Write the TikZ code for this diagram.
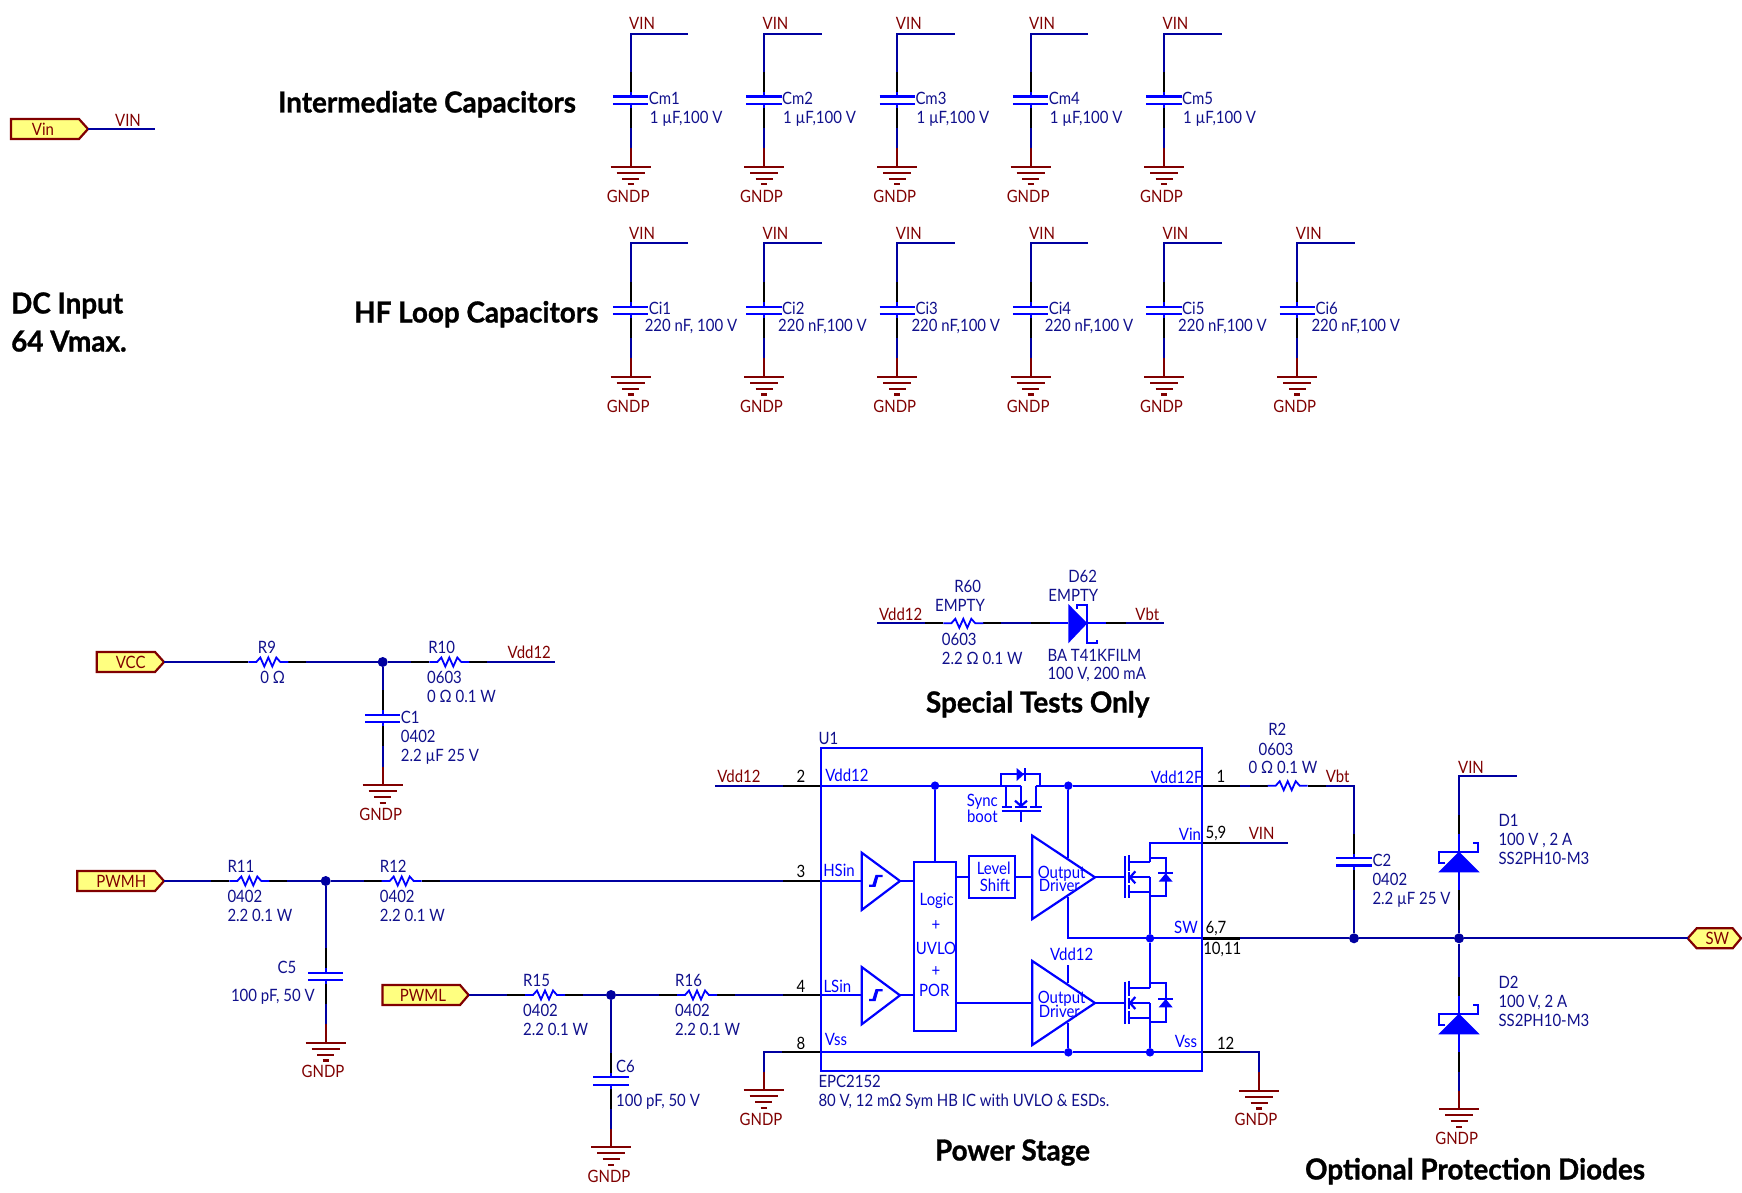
\documentclass[tikz,border=0pt]{standalone}
\usepackage{fontspec}
\setmainfont[FakeStretch=0.88]{Lato}
\newfontfamily\headfont[BoldFeatures={FakeStretch=0.96,FakeBold=1}]{Lato}
\definecolor{wirec}{HTML}{0000A0}
\definecolor{compc}{HTML}{0000FF}
\definecolor{desc}{HTML}{10108C}
\definecolor{netc}{HTML}{800000}
\definecolor{portc}{HTML}{FFFF80}
\tikzset{
  wire/.style={draw=wirec,line width=2.2pt},
  pinw/.style={draw=black,line width=2.2pt},
  comp/.style={draw=compc,line width=2.2pt},
  gndw/.style={draw=netc,line width=2.2pt},
  basetxt/.style={inner sep=0pt,text height=11.5pt,text depth=0pt,yshift=-0.3pt,font=\fontsize{17}{17}\selectfont},
  des/.style={basetxt,text=desc},
  desl/.style={des,anchor=west,xshift=-1pt},
  net/.style={basetxt,text=netc},
  icb/.style={basetxt,text=compc},
  pinn/.style={basetxt,text=black},
  head/.style={inner sep=0pt,text=black,text height=21pt,text depth=0pt,font=\headfont\fontsize{29}{29}\selectfont\bfseries},
  jdot/.style={circle,fill=wirec,inner sep=0pt,minimum size=10pt},
  bdot/.style={circle,fill=compc,inner sep=0pt,minimum size=8.5pt},
  portb/.style={draw=netc,fill=portc,line width=2.2pt,line join=miter},
}
\newcommand{\tx}[5]{\node[#1] (#2) at (#3,#4) {#5};}
\newcommand{\myres}[3]{%
  \coordinate (#1w) at (#2-38,#3); \coordinate (#1e) at (#2+38,#3);
  \draw[pinw] (#1w) -- ++(18,0); \draw[pinw] (#1e) -- ++(-18,0);
  \draw[comp,line width=1.8pt] (#2-20,#3) -- (#2-12,#3) -- (#2-8,#3-4.5) -- (#2-4,#3+4.5) -- (#2,#3-4.5) -- (#2+4,#3+4.5) -- (#2+8,#3-4.5) -- (#2+12,#3) -- (#2+20,#3);
}
\newcommand{\mycap}[3]{%
  \coordinate (#1n) at (#2,#3-28); \coordinate (#1s) at (#2,#3+28);
  \draw[pinw] (#1n) -- ++(0,20); \draw[pinw] (#1s) -- ++(0,-20);
  \draw[comp] (#2,#3-8) -- (#2,#3-3.7); \draw[comp] (#2,#3+8) -- (#2,#3+3.7);
  \draw[comp] (#2-17.7,#3-3.7) -- (#2+17.7,#3-3.7);
  \draw[comp] (#2-17.7,#3+3.7) -- (#2+17.7,#3+3.7);
}
% name, x, y of the top bar, GNDP centre x, GNDP centre y
\newcommand{\mygnd}[5]{%
  \coordinate (#1t) at (#2,#3-18.5);
  \draw[gndw] (#1t) -- (#2,#3);
  \draw[gndw] (#2-20,#3) -- (#2+20,#3);
  \draw[gndw] (#2-14,#3+6) -- (#2+14,#3+6);
  \draw[gndw] (#2-8.5,#3+12) -- (#2+8.5,#3+12);
  \draw[gndw] (#2-3,#3+17.7) -- (#2+3,#3+17.7);
  \node[net] (#1l) at (#4,#5) {GNDP};
}
% name, left, notch, tip, y, text x, text
\newcommand{\myport}[7]{%
  \coordinate (#1) at (#4,#5);
  \draw[portb] (#2,#5-10) -- (#3,#5-10) -- (#4,#5) -- (#3,#5+10) -- (#2,#5+10) -- cycle;
  \node[net] (#1l) at (#6,#5) {#7};
}
% name, x, bar y
\newcommand{\mydiode}[3]{%
  \coordinate (#1n) at (#2,#3-37); \coordinate (#1s) at (#2,#3+58.7);
  \draw[pinw] (#1n) -- ++(0,19); \draw[pinw] (#1s) -- ++(0,-20);
  \draw[comp] (#2,#3-18) -- (#2,#3);
  \draw[comp] (#2,#3+20.6) -- (#2,#3+38.6);
  \fill[compc] (#2,#3) -- (#2+20.7,#3+20.6) -- (#2-20.7,#3+20.6) -- cycle;
  \draw[comp] (#2-13.7,#3+11) -- (#2-19.7,#3+11) -- (#2-19.7,#3) -- (#2+19.3,#3) -- (#2+19.3,#3-9) -- (#2+14.3,#3-9);
}
% MOSFET in zoom coordinates, vertical offset
\newcommand{\myfet}[1]{%
  \draw[comp] (975,408+#1) -- (975,535+#1);
  \draw[comp] (988,405+#1) -- (988,452+#1);
  \draw[comp] (988,457+#1) -- (988,490+#1);
  \draw[comp] (988,495+#1) -- (988,535+#1);
  \draw[comp] (988,427+#1) -- (1050,427+#1);
  \draw[comp] (988,472+#1) -- (1050,472+#1);
  \draw[comp] (988,516+#1) -- (1050,516+#1);
  \draw[comp] (1006,454+#1) -- (990,472+#1) -- (1006,490+#1);
  \draw[comp] (1050,413+#1) -- (1097,413+#1) -- (1097,528+#1) -- (1050,528+#1);
  \fill[compc] (1076,485+#1) -- (1118,485+#1) -- (1097,460+#1) -- cycle;
  \draw[comp] (1075,460+#1) -- (1119,460+#1);
}
\newcommand{\myschmitt}[1]{%
  \draw[comp] (185,398+#1) -- (300,483+#1) -- (185,570+#1) -- cycle;
  \draw[comp] (207,497+#1) -- (224,497+#1) -- (232,468+#1);
  \draw[comp] (220,497+#1) -- (229,468+#1) -- (248,468+#1);
}
\begin{document}
\begin{tikzpicture}[x=1pt,y=-1pt]
\fill[white] (0,0) rectangle (1742,1193);
\useasboundingbox (0,0) rectangle (1742,1193);

% ---------- headings
\node[head,anchor=west] (hInter) at (278,102) {Intermediate Capacitors};
\node[head,anchor=west] (hHF) at (354,312) {HF Loop Capacitors};
\node[head,anchor=west] (hDC1) at (11,303) {DC Input};
\node[head,anchor=west] (hDC2) at (11,341) {64 Vmax.};
\node[head] (hSpecial) at (1037.7,702) {Special Tests Only};
\node[head] (hPower) at (1012.5,1150) {Power Stage};
\node[head] (hOpt) at (1475,1169) {Optional Protection Diodes};

% ---------- Vin port
\myport{pVin}{11}{79}{88}{129}{43}{Vin}
\coordinate (vinEnd) at (155,129);
\draw[wire] (pVin) -- (vinEnd);
\tx{net}{nVinTop}{128}{120}{VIN}

% ---------- intermediate capacitors
\foreach \i/\xx in {1/630.6,2/764,3/897.3,4/1030.6,5/1164}{
  \mycap{cm\i}{\xx}{100.3}
  \mygnd{gm\i}{\xx}{166.7}{\xx-2.5}{196.7}
  \coordinate (cmTop\i) at (\xx,33.7);
  \coordinate (cmEnd\i) at (\xx+57.5,33.7);
  \draw[wire] (cmEnd\i) -- (cmTop\i) -- (cm\i n);
  \draw[wire] (cm\i s) -- (gm\i t);
  \tx{net}{vm\i}{\xx+11.5}{23.5}{VIN}
  \tx{desl}{dm\i}{\xx+19}{98}{Cm\i}
  \tx{desl}{wm\i}{\xx+20}{117}{1 µF,100 V}
}
% ---------- HF capacitors
\foreach \i/\xx/\val in {1/630.6/{220 nF, 100 V},2/764/{220 nF,100 V},3/897.3/{220 nF,100 V},4/1030.6/{220 nF,100 V},5/1164/{220 nF,100 V},6/1297.3/{220 nF,100 V}}{
  \mycap{ci\i}{\xx}{310.3}
  \mygnd{gi\i}{\xx}{376.7}{\xx-2.5}{406.7}
  \coordinate (ciTop\i) at (\xx,243.3);
  \coordinate (ciEnd\i) at (\xx+57.5,243.3);
  \draw[wire] (ciEnd\i) -- (ciTop\i) -- (ci\i n);
  \draw[wire] (ci\i s) -- (gi\i t);
  \tx{net}{vi\i}{\xx+11.5}{233.5}{VIN}
  \tx{desl}{di\i}{\xx+19}{308}{Ci\i}
  \tx{desl}{wi\i}{\xx+15}{325.5}{\val}
}

% ---------- VCC branch
\myport{pVCC}{96.7}{155}{164}{662}{130.7}{VCC}
\myres{R9}{268.3}{662}
\myres{R10}{449.3}{662}
\mycap{C1}{382.7}{718.3}
\mygnd{gC1}{382.7}{785.3}{380.7}{814}
\node[jdot] (J1) at (382.7,662) {};
\coordinate (vdd12a) at (555,662);
\draw[wire] (pVCC) -- (R9w);
\draw[wire] (R9e) -- (J1);
\draw[wire] (J1) -- (R10w);
\draw[wire] (R10e) -- (vdd12a);
\draw[wire] (J1) -- (C1n);
\draw[wire] (C1s) -- (gC1t);
\tx{des}{tR9}{267}{647}{R9}
\tx{des}{vR9}{272.7}{677.7}{0 Ω}
\tx{des}{tR10}{441.7}{647}{R10}
\tx{desl}{pR10}{428}{677.7}{0603}
\tx{desl}{vR10}{428}{696}{0 Ω 0.1 W}
\tx{net}{nVdd12a}{529.3}{652.3}{Vdd12}
\tx{desl}{tC1}{401.7}{717.7}{C1}
\tx{desl}{pC1}{401.7}{736.7}{0402}
\tx{desl}{vC1}{401.7}{755.7}{2.2 µF 25 V}

% ---------- PWMH branch
\myport{pPWMH}{77.3}{155}{164}{881}{121.3}{PWMH}
\myres{R11}{249.3}{881}
\myres{R12}{401.7}{881}
\mycap{C5}{325.7}{976.3}
\mygnd{gC5}{325.7}{1042.7}{323}{1071}
\node[jdot] (J2) at (325.7,881) {};
\coordinate (pin3o) at (783,881);
\coordinate (pin3i) at (820.7,881);
\draw[wire] (pPWMH) -- (R11w);
\draw[wire] (R11e) -- (J2);
\draw[wire] (J2) -- (R12w);
\draw[wire] (R12e) -- (pin3o);
\draw[pinw] (pin3o) -- (pin3i);
\draw[wire] (J2) -- (C5n);
\draw[wire] (C5s) -- (gC5t);
\tx{desl}{tR11}{228.3}{866.7}{R11}
\tx{desl}{pR11}{228.3}{896.7}{0402}
\tx{desl}{vR11}{228.3}{915}{2.2 0.1 W}
\tx{desl}{tR12}{380.7}{866.7}{R12}
\tx{desl}{pR12}{380.7}{896.7}{0402}
\tx{desl}{vR12}{380.7}{915}{2.2 0.1 W}
\tx{des}{tC5}{287}{967.3}{C5}
\tx{desl}{vC5}{231.8}{995.7}{100 pF, 50 V}

% ---------- PWML branch
\myport{pPWML}{382.4}{460}{468.6}{995}{423}{PWML}
\myres{R15}{545}{995}
\myres{R16}{697}{995}
\mycap{C6}{611}{1081}
\mygnd{gC6}{611}{1147.3}{609}{1176}
\node[jdot] (J3) at (611,995) {};
\coordinate (pin4o) at (783,995);
\coordinate (pin4i) at (820.7,995);
\draw[wire] (pPWML) -- (R15w);
\draw[wire] (R15e) -- (J3);
\draw[wire] (J3) -- (R16w);
\draw[wire] (R16e) -- (pin4o);
\draw[pinw] (pin4o) -- (pin4i);
\draw[wire] (J3) -- (C6n);
\draw[wire] (C6s) -- (gC6t);
\tx{desl}{tR15}{524}{980.7}{R15}
\tx{desl}{pR15}{524}{1010.7}{0402}
\tx{desl}{vR15}{524}{1029.3}{2.2 0.1 W}
\tx{desl}{tR16}{676}{980.7}{R16}
\tx{desl}{pR16}{676}{1010.7}{0402}
\tx{desl}{vR16}{676}{1029.3}{2.2 0.1 W}
\tx{desl}{tC6}{617}{1066.7}{C6}
\tx{desl}{vC6}{617}{1100.7}{100 pF, 50 V}

% ---------- special tests
\myres{R60}{963.3}{623.3}
\coordinate (s1) at (877.3,623.3);
\coordinate (s2) at (1030.7,623.3);
\coordinate (s2b) at (1050,623.3);
\coordinate (s3) at (1125.7,623.3);
\coordinate (s3b) at (1105.7,623.3);
\coordinate (s4) at (1164,623.3);
\draw[wire] (s1) -- (R60w);
\draw[wire] (R60e) -- (s2);
\draw[pinw] (s2) -- (s2b);
\draw[comp] (s2b) -- (1068.3,623.3);
\draw[comp] (1087.3,623.3) -- (s3b);
\draw[pinw] (s3b) -- (s3);
\draw[wire] (s3) -- (s4);
\fill[compc] (1068.3,604) -- (1087.3,623.3) -- (1068.3,643.3) -- cycle;
\draw[comp] (1077.3,608.5) -- (1077.3,605) -- (1087.3,605) -- (1087.3,643) -- (1097.3,643) -- (1097.3,639.5);
\tx{net}{nVdd12s}{900.7}{614.3}{Vdd12}
\tx{net}{nVbts}{1147.3}{614.3}{Vbt}
\tx{des}{tR60}{967.7}{586.7}{R60}
\tx{des}{eR60}{960}{605}{EMPTY}
\tx{desl}{pR60}{942.7}{639.3}{0603}
\tx{desl}{vR60}{942.7}{658.3}{2.2 Ω 0.1 W}
\tx{des}{tD62}{1082.7}{576.7}{D62}
\tx{des}{eD62}{1073.3}{595}{EMPTY}
\tx{desl}{pD62}{1048.3}{655}{BA T41KFILM}
\tx{desl}{vD62}{1048.3}{673.3}{100 V, 200 mA}

% ---------- pins of U1
\coordinate (pin2n) at (715.3,785.7);
\coordinate (pin2o) at (783,785.7);
\coordinate (pin2i) at (820.7,785.7);
\draw[wire] (pin2n) -- (pin2o);
\draw[pinw] (pin2o) -- (pin2i);
\tx{net}{nVdd12b}{739}{776}{Vdd12}

\mygnd{gP8}{763.7}{1090.3}{761}{1119.3}
\coordinate (pin8c) at (763.7,1052.3);
\coordinate (pin8o) at (782,1052.3);
\coordinate (pin8i) at (820.7,1052.3);
\draw[wire] (gP8t) -- (pin8c) -- (pin8o);
\draw[pinw] (pin8o) -- (pin8i);

\mygnd{gP12}{1259}{1090.7}{1256}{1119.3}
\coordinate (pin12c) at (1259,1052.3);
\coordinate (pin12o) at (1240,1052.3);
\coordinate (pin12i) at (1201.7,1052.3);
\draw[wire] (gP12t) -- (pin12c) -- (pin12o);
\draw[pinw] (pin12o) -- (pin12i);

\myres{R2}{1287.7}{785.7}
\coordinate (pin1i) at (1201.7,785.7);
\coordinate (pin1o) at (1240,785.7);
\coordinate (vbtC) at (1354,785.7);
\node[jdot] (J4) at (1354,938.3) {};
\node[jdot] (J5) at (1459,938.3) {};
\mycap{C2}{1354}{861.7}
\draw[pinw] (pin1i) -- (pin1o);
\draw[wire] (pin1o) -- (R2w);
\draw[wire] (R2e) -- (vbtC) -- (C2n);
\draw[wire] (C2s) -- (J4);

\coordinate (pin5i) at (1201.7,842.7);
\coordinate (pin5o) at (1240,842.7);
\coordinate (pin5n) at (1288.3,842.7);
\draw[pinw] (pin5i) -- (pin5o);
\draw[wire] (pin5o) -- (pin5n);

\coordinate (pin6i) at (1201.7,938.3);
\coordinate (pin6o) at (1240,938.3);
\draw[pinw,line width=2.8pt] (pin6i) -- (pin6o);
\draw[wire] (pin6o) -- (J4);
\draw[wire] (J4) -- (J5);

% ---------- SW port
\coordinate (pSW) at (1687.7,938.3);
\draw[portb] (1687.7,938.3) -- (1696.7,928.3) -- (1732.7,928.3) -- (1741,938.3) -- (1732.7,948.3) -- (1696.7,948.3) -- cycle;
\node[net] (pSWl) at (1717.3,938.3) {SW};
\draw[wire] (J5) -- (pSW);

% ---------- protection diodes
\mydiode{D1}{1459}{851.7}
\mydiode{D2}{1459}{1013.7}
\mygnd{gD2}{1459}{1109.3}{1456.7}{1138.3}
\coordinate (vinD) at (1459,776);
\coordinate (vinDe) at (1516.7,776);
\draw[wire] (vinDe) -- (vinD) -- (D1n);
\draw[wire] (D1s) -- (J5);
\draw[wire] (J5) -- (D2n);
\draw[wire] (D2s) -- (gD2t);
\tx{net}{nVinD}{1471}{767.3}{VIN}
\tx{desl}{tD1}{1499.3}{820.7}{D1}
\tx{desl}{vD1}{1499.3}{839.7}{100 V , 2 A}
\tx{desl}{pD1}{1499.3}{858.7}{SS2PH10-M3}
\tx{desl}{tD2}{1499.3}{982.3}{D2}
\tx{desl}{vD2}{1499.3}{1001.3}{100 V, 2 A}
\tx{desl}{pD2}{1499.3}{1020.3}{SS2PH10-M3}

\tx{des}{tR2}{1277.3}{729.3}{R2}
\tx{des}{pR2}{1276}{749}{0603}
\tx{des}{vR2}{1283}{767.7}{0 Ω 0.1 W}
\tx{net}{nVbt}{1337.7}{776.7}{Vbt}
\tx{net}{nVinP}{1261.7}{833.3}{VIN}
\tx{desl}{tC2}{1373.3}{860.7}{C2}
\tx{desl}{pC2}{1373.3}{879.7}{0402}
\tx{desl}{vC2}{1373.3}{898.7}{2.2 µF 25 V}

\tx{pinn}{n2}{801}{776}{2}
\tx{pinn}{n3}{801}{871.7}{3}
\tx{pinn}{n4}{801}{986.7}{4}
\tx{pinn}{n8}{801}{1043.3}{8}
\tx{pinn}{n1}{1221}{776.7}{1}
\tx{pinn}{n59}{1216}{832.3}{5,9}
\tx{pinn}{n67}{1216}{927.7}{6,7}
\tx{pinn}{n1011}{1222.3}{948.3}{10,11}
\tx{pinn}{n12}{1225.7}{1043.3}{12}

% ---------- inside of U1 (coordinates of a 3x crop at 800,720)
\begin{scope}[shift={(800,720)},x=0.33333pt,y=-0.33333pt]
  \draw[comp] (62,84) rectangle (1205,1053);
  \node[bdot] (jA) at (405,197) {};
  \node[bdot] (jB) at (805,197) {};
  \node[bdot] (jC) at (1050,655) {};
  \node[bdot] (jD) at (805,997) {};
  \node[bdot] (jE) at (1050,997) {};
  \coordinate (fetL) at (617,197);
  \coordinate (fetM) at (663,197);
  \coordinate (fetR) at (707,197);
  % rails
  \draw[comp] (62,197) -- (jA) -- (fetM);
  \draw[comp] (fetR) -- (jB) -- (1205,197);
  \draw[comp] (62,997) -- (jD) -- (jE) -- (1205,997);
  \draw[comp] (62,483) -- (185,483);
  \draw[comp] (62,826) -- (185,826);
  \draw[comp] (300,483) -- (342,483);
  \draw[comp] (300,826) -- (342,826);
  % logic block
  \draw[comp] (342,425) rectangle (468,933);
  \draw[comp] (jA) -- (405,425);
  \draw[comp] (508,408) rectangle (645,534);
  \draw[comp] (468,472) -- (508,472);
  \draw[comp] (645,472) -- (697,472);
  \draw[comp] (468,849) -- (697,849);
  % schmitt triggers
  \myschmitt{0}
  \myschmitt{343}
  % output drivers
  \draw[comp] (697,347) -- (885,472) -- (697,597) -- cycle;
  \draw[comp] (697,723) -- (885,849) -- (697,975) -- cycle;
  \draw[comp] (jB) -- (805,415);
  \draw[comp] (805,530) -- (805,655) -- (jC);
  \draw[comp] (jC) -- (1205,655);
  \draw[comp] (805,735) -- (805,790);
  \draw[comp] (805,908) -- (jD);
  \draw[comp] (885,472) -- (975,472);
  \draw[comp] (885,849) -- (975,849);
  % power FETs
  \myfet{0}
  \myfet{377}
  \draw[comp] (1205,368) -- (1050,368) -- (1050,427);
  \draw[comp] (1050,472) -- (jC);
  \draw[comp] (jC) -- (1050,804);
  \draw[comp] (1050,849) -- (jE);
  % sync boot
  \draw[comp] (604,197) -- (604,162) -- (720,162) -- (720,197);
  \fill[compc] (650,144) -- (672,163) -- (650,183) -- cycle;
  \draw[comp] (675,144) -- (675,183);
  \draw[comp] (fetL) -- (617,258);
  \draw[comp] (fetR) -- (707,258);
  \draw[comp] (fetM) -- (663,258);
  \draw[comp] (605,260) -- (635,260);
  \draw[comp] (645,260) -- (680,260);
  \draw[comp] (690,260) -- (727,260);
  \draw[comp] (605,272) -- (722,272);
  \draw[comp] (663,272) -- (663,307);
  \draw[comp] (645,242) -- (663,258) -- (681,242);
  % texts
  \tx{icb}{iVdd}{141}{167}{Vdd12}
  \tx{icb}{iHS}{117}{452}{HSin}
  \tx{icb}{iLS}{112}{800}{LSin}
  \tx{icb}{iVssL}{108}{958}{Vss}
  \tx{icb}{iVddF}{1130}{172}{Vdd12F}
  \tx{icb}{iVin}{1170}{343}{Vin}
  \tx{icb}{iSW}{1158}{622}{SW}
  \tx{icb}{iVssR}{1158}{965}{Vss}
  \tx{icb}{iSync}{547}{240}{Sync}
  \tx{icb}{iBoot}{547}{288}{boot}
  \tx{icb}{iLevel}{581}{446}{Level}
  \tx{icb}{iShift}{585}{495}{Shift}
  \tx{icb}{iLogic}{410}{537}{Logic}
  \tx{icb}{iP1}{408}{613}{+}
  \tx{icb}{iUVLO}{408}{685}{UVLO}
  \tx{icb}{iP2}{408}{752}{+}
  \tx{icb}{iPOR}{403}{812}{POR}
  \tx{icb}{iOut1}{785}{458}{Output}
  \tx{icb}{iDrv1}{778}{497}{Driver}
  \tx{icb}{iOut2}{785}{833}{Output}
  \tx{icb}{iDrv2}{778}{875}{Driver}
  \tx{icb}{iVdd2}{815}{703}{Vdd12}
  \tx{des}{iU1}{85}{55}{U1}
  \tx{desl}{iEPC}{58}{1085}{EPC2152}
  \tx{desl}{iEPC2}{58}{1140}{80 V, 12 mΩ Sym HB IC with UVLO \& ESDs.}
\end{scope}
\end{tikzpicture}
\end{document}
